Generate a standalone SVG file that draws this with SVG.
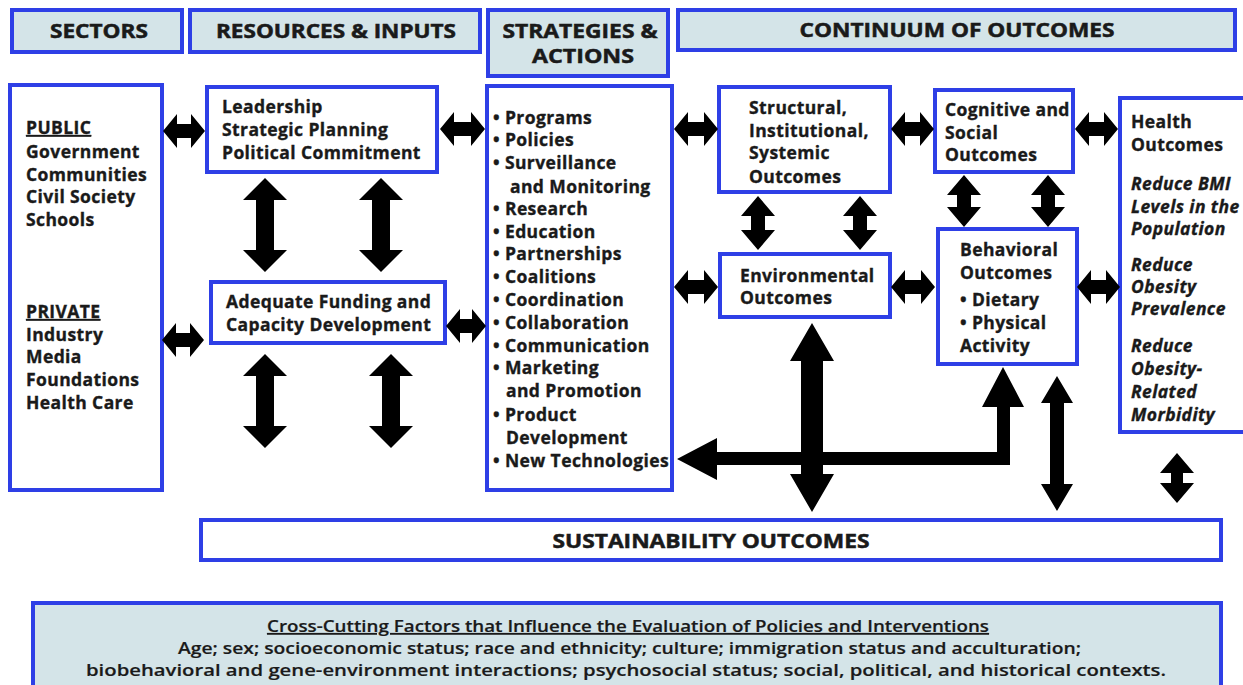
<svg xmlns="http://www.w3.org/2000/svg" width="1243" height="685" viewBox="0 0 1243 685">
<style>
.box{fill:#ffffff;stroke:#2e3fe6;stroke-width:4}
.hdr{fill:#d4e4e8;stroke:#2e3fe6;stroke-width:4}
.arr{fill:#000000;stroke:none}
text{font-family:"Open Sans","Liberation Sans",sans-serif;font-weight:700;fill:#1a1a1a;stroke:#1a1a1a;stroke-width:0.35;font-size:17.5px;letter-spacing:0.4px}
.h{font-size:19px;text-anchor:middle;letter-spacing:0;stroke-width:0.5}
.i{font-style:italic}
.u{text-decoration:underline}
.c{font-size:17px;text-anchor:middle;font-weight:600;letter-spacing:0;stroke-width:0.2}
</style>
<rect width="1243" height="685" fill="#ffffff"/>
<g id="hdr-sectors"><rect class="hdr" x="12" y="10" width="170" height="42"/><text class="h" x="99" y="38" textLength="98" lengthAdjust="spacingAndGlyphs">SECTORS</text></g>
<g id="hdr-resources"><rect class="hdr" x="190" y="10" width="290" height="42"/><text class="h" x="336" y="38" textLength="240" lengthAdjust="spacingAndGlyphs">RESOURCES &amp; INPUTS</text></g>
<g id="hdr-strategies"><rect class="hdr" x="488" y="10" width="180" height="66"/><text class="h" x="580" y="38" textLength="155" lengthAdjust="spacingAndGlyphs">STRATEGIES &amp;</text><text class="h" x="583" y="63" textLength="102" lengthAdjust="spacingAndGlyphs">ACTIONS</text></g>
<g id="hdr-continuum"><rect class="hdr" x="678" y="10" width="557" height="40"/><text class="h" x="957" y="37" textLength="315" lengthAdjust="spacingAndGlyphs">CONTINUUM OF OUTCOMES</text></g>

<g id="sectors"><rect class="box" x="10" y="85" width="152" height="405"/>
<text class="u" x="26" y="134">PUBLIC</text><text x="26" y="158">Government</text><text x="26" y="181">Communities</text><text x="26" y="203">Civil Society</text><text x="26" y="226">Schools</text>
<text class="u" x="26" y="318">PRIVATE</text><text x="26" y="341">Industry</text><text x="26" y="363">Media</text><text x="26" y="386">Foundations</text><text x="26" y="409">Health Care</text></g>

<g id="leadership"><rect class="box" x="207" y="87" width="230" height="85"/>
<text x="222" y="113">Leadership</text><text x="222" y="136">Strategic Planning</text><text x="222" y="159">Political Commitment</text></g>

<g id="funding"><rect class="box" x="211" y="282" width="234" height="61"/>
<text x="226" y="308">Adequate Funding and</text><text x="226" y="331">Capacity Development</text></g>

<g id="strategies"><rect class="box" x="487" y="86" width="185" height="404"/>
<text x="493" y="124">• Programs</text><text x="493" y="146">• Policies</text><text x="493" y="169">• Surveillance</text><text x="510" y="193">and Monitoring</text><text x="493" y="215">• Research</text><text x="493" y="238">• Education</text><text x="493" y="260">• Partnerships</text><text x="493" y="283">• Coalitions</text><text x="493" y="306">• Coordination</text><text x="493" y="329">• Collaboration</text><text x="493" y="352">• Communication</text><text x="493" y="374">• Marketing</text><text x="506" y="397">and Promotion</text><text x="493" y="421">• Product</text><text x="506" y="444">Development</text><text x="493" y="467">• New Technologies</text></g>

<g id="structural"><rect class="box" x="719" y="87" width="171" height="105"/>
<text x="749" y="114">Structural,</text><text x="749" y="137">Institutional,</text><text x="749" y="159">Systemic</text><text x="749" y="183">Outcomes</text></g>

<g id="environmental"><rect class="box" x="720" y="254" width="170" height="63"/>
<text x="740" y="282">Environmental</text><text x="740" y="304">Outcomes</text></g>

<g id="cognitive"><rect class="box" x="935" y="90" width="138" height="82"/>
<text x="945" y="116">Cognitive and</text><text x="945" y="139">Social</text><text x="945" y="161">Outcomes</text></g>

<g id="behavioral"><rect class="box" x="938" y="229" width="139" height="135"/>
<text x="960" y="256">Behavioral</text><text x="960" y="279">Outcomes</text><text x="960" y="306">• Dietary</text><text x="960" y="329">• Physical</text><text x="960" y="352">Activity</text></g>

<g id="health"><rect class="box" x="1120" y="98" width="130" height="334"/>
<text x="1131" y="128">Health</text><text x="1131" y="151">Outcomes</text>
<text class="i" x="1131" y="190">Reduce BMI</text><text class="i" x="1131" y="213">Levels in the</text><text class="i" x="1131" y="235">Population</text>
<text class="i" x="1131" y="271">Reduce</text><text class="i" x="1131" y="293">Obesity</text><text class="i" x="1131" y="315">Prevalence</text>
<text class="i" x="1131" y="352">Reduce</text><text class="i" x="1131" y="375">Obesity-</text><text class="i" x="1131" y="398">Related</text><text class="i" x="1131" y="421">Morbidity</text></g>

<g id="sustainability"><rect class="box" x="201" y="520" width="1020" height="40"/><text class="h" x="711" y="548" textLength="317" lengthAdjust="spacingAndGlyphs">SUSTAINABILITY OUTCOMES</text></g>

<g id="crosscutting"><rect class="hdr" x="33" y="603" width="1188" height="90"/>
<text class="c u" x="628" y="632" textLength="722" lengthAdjust="spacingAndGlyphs">Cross-Cutting Factors that Influence the Evaluation of Policies and Interventions</text>
<text class="c" x="629.5" y="654" textLength="903" lengthAdjust="spacingAndGlyphs">Age; sex; socioeconomic status; race and ethnicity; culture; immigration status and acculturation;</text>
<text class="c" x="626" y="676" textLength="1080" lengthAdjust="spacingAndGlyphs">biobehavioral and gene-environment interactions; psychosocial status; social, political, and historical contexts.</text></g>

<g id="connectors">
<polygon class="arr" points="163,131 177,114 177,124 191,124 191,114 205,131 191,148 191,138 177,138 177,148"/>
<polygon class="arr" points="162,340 176,323 176,333 190,333 190,323 204,340 190,357 190,347 176,347 176,357"/>
<polygon class="arr" points="440,129 454,112 454,122 471,122 471,112 485,129 471,146 471,136 454,136 454,146"/>
<polygon class="arr" points="446,326 460,309 460,319 472,319 472,309 486,326 472,343 472,333 460,333 460,343"/>
<polygon class="arr" points="674,129 688,112 688,122 704,122 704,112 718,129 704,146 704,136 688,136 688,146"/>
<polygon class="arr" points="674,287 688,270 688,280 704,280 704,270 718,287 704,304 704,294 688,294 688,304"/>
<polygon class="arr" points="891,129 905,112 905,122 920,122 920,112 934,129 920,146 920,136 905,136 905,146"/>
<polygon class="arr" points="891,287 905,270 905,280 921,280 921,270 935,287 921,304 921,294 905,294 905,304"/>
<polygon class="arr" points="1075,129 1089,112 1089,122 1104,122 1104,112 1118,129 1104,146 1104,136 1089,136 1089,146"/>
<polygon class="arr" points="1077,287 1091,270 1091,280 1106,280 1106,270 1120,287 1106,304 1106,294 1091,294 1091,304"/>
<polygon class="arr" points="265,178 287,200 274,200 274,250 287,250 265,272 243,250 256,250 256,200 243,200"/>
<polygon class="arr" points="381,178 403,200 390,200 390,250 403,250 381,272 359,250 372,250 372,200 359,200"/>
<polygon class="arr" points="265,354 287,376 274,376 274,426 287,426 265,448 243,426 256,426 256,376 243,376"/>
<polygon class="arr" points="391,354 413,376 400,376 400,426 413,426 391,448 369,426 382,426 382,376 369,376"/>
<polygon class="arr" points="758,196 775,216 765,216 765,230 775,230 758,250 741,230 751,230 751,216 741,216"/>
<polygon class="arr" points="860,196 877,216 867,216 867,230 877,230 860,250 843,230 853,230 853,216 843,216"/>
<polygon class="arr" points="964,175 981,195 971,195 971,207 981,207 964,227 947,207 957,207 957,195 947,195"/>
<polygon class="arr" points="1048,175 1065,195 1055,195 1055,207 1065,207 1048,227 1031,207 1041,207 1041,195 1031,195"/>
<polygon class="arr" points="812,323 834,361 823,361 823,474 834,474 812,512 790,474 801,474 801,361 790,361"/>
<polygon class="arr" points="1057,376 1073,403 1064,403 1064,484 1073,484 1057,511 1041,484 1050,484 1050,403 1041,403"/>
<polygon class="arr" points="1177,453 1194,473 1183,473 1183,483 1194,483 1177,503 1160,483 1171,483 1171,473 1160,473"/>
<polygon class="arr" points="677,459 717,438 717,452 997,452 997,407 982,407 1003,367 1024,407 1010,407 1010,465 717,465 717,480"/>
</g>
</svg>
